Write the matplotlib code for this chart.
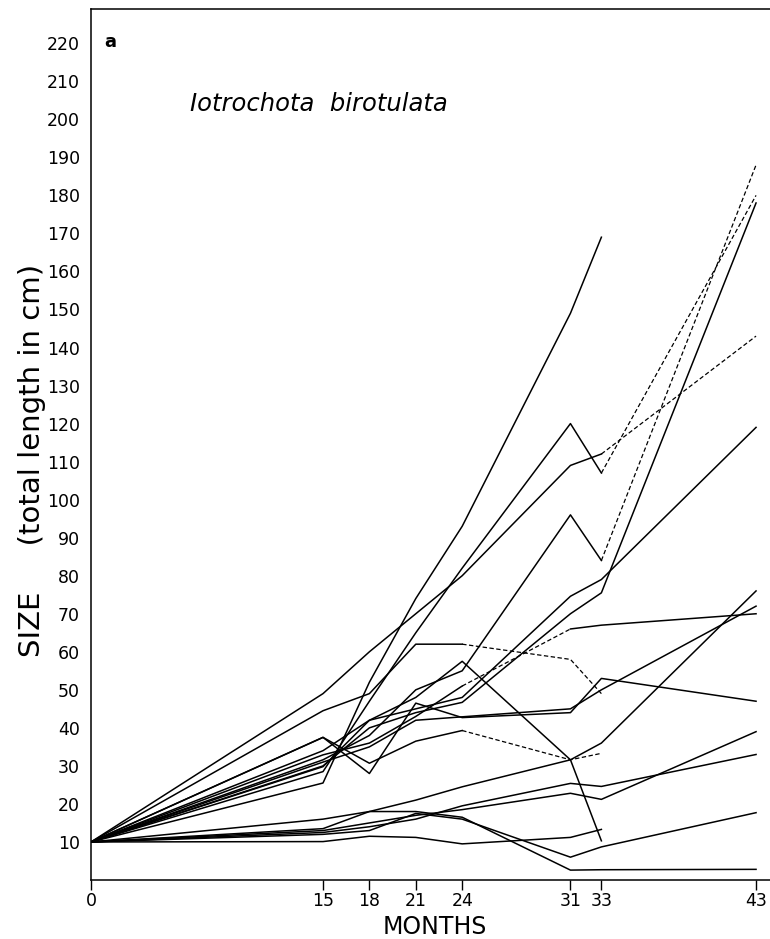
import numpy as np
import matplotlib
matplotlib.use("Agg")
from matplotlib import pyplot as plt

# months at which the sponges were measured
months = [0, 15, 18, 21, 24, 31, 33, 43]
nan = np.nan

# size (total length in cm) for each individual
# (nan = not measured / specimen gone)
size_a = [10, 25.5, 52, 74, 93, 149, 169, nan]
size_b = [10, 28.5, 47, 65, 82, 120, 107, 180]
size_c = [10, 31.6, 38, 50, 55, 96, 84, 188]
size_d = [10, 49, 60, 70, 80, 109, 112, 143]
size_e = [10, 30, 40, 44, 46.7, 70, 75.5, 178]
size_f = [10, 29.8, 42, 45, 48, 74.6, 79, 119]
size_g = [10, 16, 18, 21, 24.5, 31.6, 36, 76]
size_h = [10, 31, 35, 42, 42.9, 45, 50, 72]
size_i = [10, 32.9, 36, 43, 51, 66, 67, 70]
size_j = [10, 37.5, 28, 46.5, 42.7, 44, 53, 47]
size_k = [10, 13, 15, 17, 18.5, 22.8, 21.2, 39]
size_l = [10, 12.5, 14, 16, 19.5, 25.4, 24.6, 33]
size_m = [10, 12, 13, 17.5, 16, 6, 8.7, 17.7]
size_n = [10, 13.5, 18, 18, 16.5, 2.6, 2.7, 2.8]
size_p = [10, 37.5, 30.7, 36.5, 39.3, 31.6, 33.3, nan]
size_q = [10, 44.5, 49, 62, 62, 58, 49, nan]
size_r = [10, 34, 42, 48, 57.5, 31.6, 10.3, nan]
size_s = [10, 10.1, 11.5, 11.2, 9.5, 11.2, 13.3, nan]

# index range (into months) drawn dashed, None = all solid
series = [
    (size_a, None), (size_b, (6, 7)), (size_c, (6, 7)), (size_d, (6, 7)),
    (size_e, None), (size_f, None), (size_g, None), (size_h, None),
    (size_i, (4, 5)), (size_j, None), (size_k, None), (size_l, None),
    (size_m, None), (size_n, None), (size_p, (4, 6)), (size_q, (4, 6)),
    (size_r, None), (size_s, None),
]

fig = plt.figure(figsize=(7.70, 9.39), dpi=100, facecolor='white')
ax = fig.add_axes([91 / 770, 59 / 939, 1 - 91 / 770 + 0.01, 871 / 939])

x = np.array(months, dtype=float)
for vals, dash in series:
    y = np.array(vals, dtype=float)
    if dash is None:
        ax.plot(x, y, color='black', lw=1.1)
        continue
    i0, i1 = dash
    ax.plot(x[:i0 + 1], y[:i0 + 1], color='black', lw=1.1)
    ax.plot(x[i0:i1 + 1], y[i0:i1 + 1], color='black', lw=0.9, linestyle=(0, (3.5, 2)))
    if i1 < len(x) - 1:
        ax.plot(x[i1:], y[i1:], color='black', lw=1.1)

ax.set_xlim(0, 44.4)
ax.set_ylim(0, 229)
ax.set_xticks(months)
ax.set_yticks(np.arange(10, 221, 10))
ax.tick_params(axis='x', direction='out', length=7, width=1, labelsize=12.5, pad=2)
ax.tick_params(axis='y', length=0, labelsize=12.5, pad=8)
ax.spines['right'].set_visible(False)
for sp in ['left', 'bottom', 'top']:
    ax.spines[sp].set_linewidth(1.1)

ax.set_xlabel('MONTHS', fontsize=17, labelpad=3)
ax.set_ylabel('SIZE     (total length in cm)', fontsize=21)
ax.yaxis.set_label_coords(-0.066, 0.482)

ax.text(0.02, 0.973, 'a', transform=ax.transAxes, fontsize=13, fontweight='bold',
        va='top', ha='left')
ax.text(6.4, 204, 'Iotrochota  birotulata', fontsize=17.5, style='italic', va='center', ha='left')

fig.savefig('out.png', dpi=100, facecolor='white')
